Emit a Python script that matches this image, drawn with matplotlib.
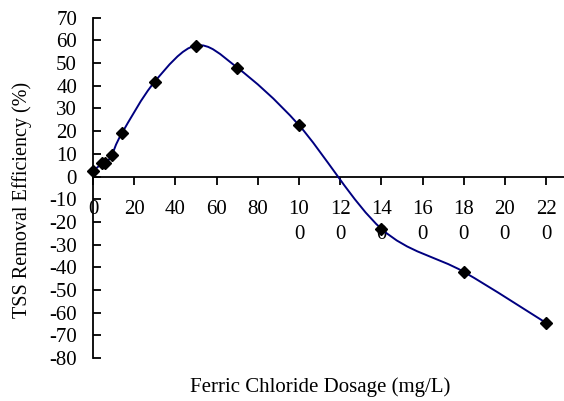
import matplotlib
matplotlib.use("Agg")
import matplotlib.pyplot as plt
from matplotlib.path import Path
from matplotlib.patches import PathPatch
import numpy as np

dosage = [0, 4.5, 6, 9, 14, 30, 50, 70, 100, 140, 180, 220]
efficiency = [2.3, 5.8, 5.8, 9.3, 19, 41.8, 57.7, 48, 22.6, -23, -42, -64.5]
xticks = [0, 20, 40, 60, 80, 100, 120, 140, 160, 180, 200, 220]
xticklabels = ["0", "20", "40", "60", "80", "10\n0", "12\n0", "14\n0", "16\n0", "18\n0", "20\n0", "22\n0"]
yticks = list(range(-80, 71, 10))

plt.rcParams['font.family'] = ['Liberation Serif', 'DejaVu Serif']

W, H = 564, 401
fig = plt.figure(figsize=(W / 100, H / 100), dpi=100)
ax = fig.add_axes([93 / W, (H - 358.1) / H, (564 - 93) / W, (358.1 - 17.6) / H])
ax.set_xlim(0, 228.7)
ax.set_ylim(-80, 70)

# Excel-style smoothed line (cubic Bezier with 1/6 neighbour tangents)
pts = np.column_stack([dosage, efficiency]).astype(float)
n = len(pts)
verts = [tuple(pts[0])]
codes = [Path.MOVETO]
for i in range(n - 1):
    p0 = pts[i - 1] if i > 0 else pts[i]
    p1 = pts[i]
    p2 = pts[i + 1]
    p3 = pts[i + 2] if i + 2 < n else pts[i + 1]
    c1 = p1 + (p2 - p0) / 6.0
    c2 = p2 - (p3 - p1) / 6.0
    verts += [tuple(c1), tuple(c2), tuple(p2)]
    codes += [Path.CURVE4] * 3
ax.add_patch(PathPatch(Path(verts, codes), facecolor='none', edgecolor='#000080', lw=1.4, zorder=3, clip_on=False))
ax.plot(dosage, efficiency, linestyle='none', marker='D', markersize=6, color='black', zorder=4, clip_on=False)

for s in ['top', 'right']:
    ax.spines[s].set_visible(False)
ax.spines['bottom'].set_position(('data', 0))
ax.spines['left'].set_position(('data', 0))
for s in ['bottom', 'left']:
    ax.spines[s].set_linewidth(1.3)
    ax.spines[s].set_color('black')

ax.set_xticks(xticks)
ax.set_xticklabels(xticklabels, fontsize=15, linespacing=1.42, va='top')
ax.set_yticks(yticks)
ax.set_yticklabels([str(v) for v in yticks], fontsize=15)
ax.tick_params(axis='x', direction='out', length=6, width=1.3, pad=11)
ax.tick_params(axis='y', direction='in', length=6, width=1.3, pad=11.5)

fig.text(22 / W, 1 - 200 / H, "TSS Removal Efficiency (%)", rotation=90, ha='center', va='center', fontsize=14.5)
fig.text(320 / W, 1 - 387 / H, "Ferric Chloride Dosage (mg/L)", ha='center', va='center', fontsize=15)

fig.savefig("out.png", dpi=100)
